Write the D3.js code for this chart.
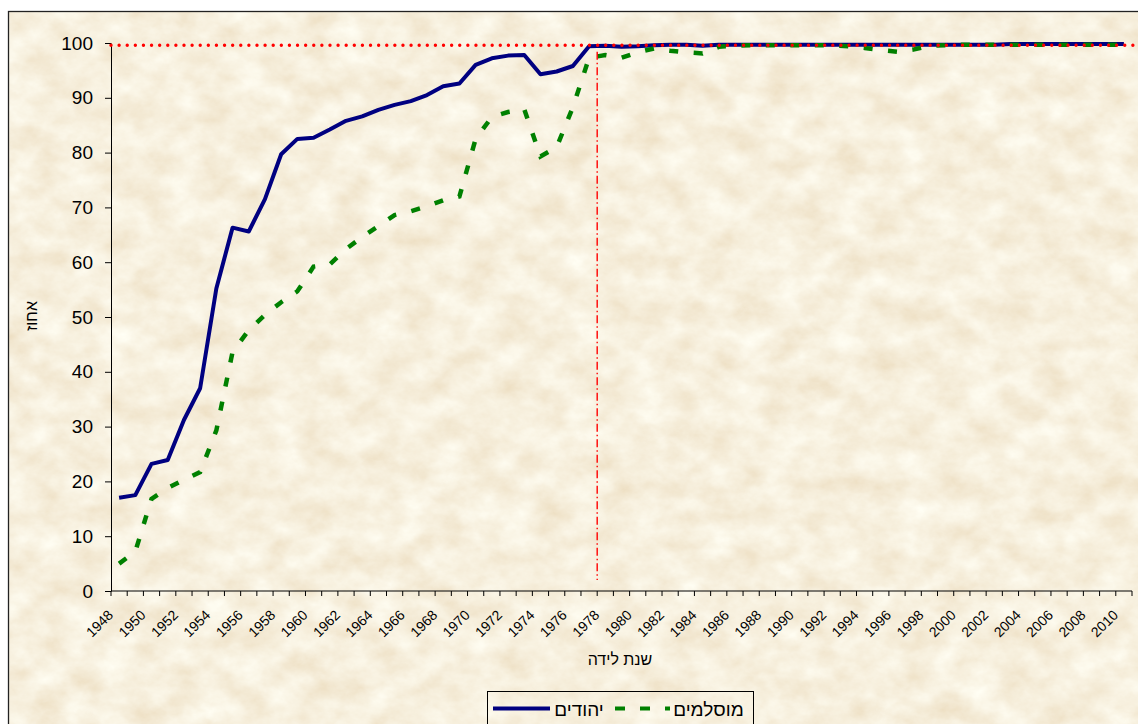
<!DOCTYPE html>
<html>
<head>
<meta charset="utf-8">
<script src="https://cdn.jsdelivr.net/npm/d3@7"></script>
<style>
  html, body { margin: 0; padding: 0; background: #fff; }
  svg { display: block; }
  text { font-family: Arial, "Liberation Sans", sans-serif; fill: #000; }
</style>
</head>
<body>
<div id="chart"></div>
<script>
// birth years (categories)
const years = [1948, 1949, 1950, 1951, 1952, 1953, 1954, 1955, 1956, 1957,
  1958, 1959, 1960, 1961, 1962, 1963, 1964, 1965, 1966, 1967,
  1968, 1969, 1970, 1971, 1972, 1973, 1974, 1975, 1976, 1977,
  1978, 1979, 1980, 1981, 1982, 1983, 1984, 1985, 1986, 1987,
  1988, 1989, 1990, 1991, 1992, 1993, 1994, 1995, 1996, 1997,
  1998, 1999, 2000, 2001, 2002, 2003, 2004, 2005, 2006, 2007,
  2008, 2009, 2010];

// יהודים
const jews = [17.0, 17.5, 23.2, 23.9, 31.2, 37.0, 55.2, 66.3, 65.6, 71.5,
  79.7, 82.5, 82.7, 84.2, 85.8, 86.6, 87.8, 88.7, 89.4, 90.5,
  92.1, 92.6, 96.0, 97.2, 97.7, 97.8, 94.3, 94.8, 95.8, 99.4,
  99.5, 99.3, 99.4, 99.6, 99.7, 99.7, 99.5, 99.7, 99.7, 99.7,
  99.7, 99.7, 99.7, 99.7, 99.7, 99.7, 99.7, 99.7, 99.7, 99.7,
  99.7, 99.7, 99.7, 99.7, 99.7, 99.8, 99.8, 99.8, 99.8, 99.8,
  99.8, 99.8, 99.8];

// מוסלמים
const muslims = [5.0, 7.2, 16.8, 18.8, 20.3, 21.7, 29.3, 43.6, 47.6, 50.4,
  52.7, 54.7, 59.2, 59.6, 62.4, 64.6, 66.6, 68.6, 69.3, 70.2,
  71.3, 72.0, 82.5, 86.5, 87.4, 87.9, 79.3, 81.0, 88.3, 97.3,
  97.8, 97.3, 98.3, 99.0, 98.6, 98.3, 98.1, 99.3, 99.5, 99.6,
  99.6, 99.6, 99.6, 99.6, 99.6, 99.4, 99.1, 98.7, 98.4, 98.8,
  99.5, 99.6, 99.7, 99.7, 99.7, 99.7, 99.7, 99.7, 99.7, 99.7,
  99.7, 99.7, 99.7];

const yTicks = [0, 10, 20, 30, 40, 50, 60, 70, 80, 90, 100];
const refLevel = 99.6;   // red dotted line
const refYear = 1978;    // red dash-dot line

const width = 1138, height = 724;

const svg = d3.select("#chart").append("svg")
    .attr("width", width)
    .attr("height", height);

// parchment-like background
const defs = svg.append("defs");
const f = defs.append("filter").attr("id", "paper")
    .attr("x", 0).attr("y", 0).attr("width", "100%").attr("height", "100%");
f.append("feTurbulence")
    .attr("type", "fractalNoise")
    .attr("baseFrequency", "0.03 0.04")
    .attr("numOctaves", 5)
    .attr("seed", 7)
    .attr("result", "n");
f.append("feColorMatrix")
    .attr("in", "n")
    .attr("type", "matrix")
    .attr("values", "0.18 0 0 0 0.84  0.3 0 0 0 0.72  0.42 0 0 0 0.52  0 0 0 0 1");

svg.append("rect")
    .attr("x", 8).attr("y", 11)
    .attr("width", width + 10).attr("height", height + 10)
    .attr("filter", "url(#paper)");
svg.append("rect")
    .attr("x", 8.5).attr("y", 11.5)
    .attr("width", width + 10).attr("height", height + 10)
    .attr("fill", "none")
    .attr("stroke", "#222")
    .attr("stroke-width", 1.3);

const x = d3.scaleBand()
    .domain(years)
    .range([111, 1132])
    .padding(0);
const bw = x.bandwidth();
const cx = d => x(d) + bw / 2;

const y = d3.scaleLinear()
    .domain([0, 100])
    .range([591, 43]);

// y axis
svg.append("g")
    .attr("transform", "translate(111,0)")
    .call(d3.axisLeft(y).tickValues(yTicks).tickSize(6).tickSizeOuter(0).tickPadding(12))
    .call(g => g.selectAll("text").style("font-size", "19px").attr("fill", "#000"))
    .call(g => g.selectAll("line,path").attr("stroke", "#000"));

// x axis: ticks on category boundaries, labels every other year
const xa = svg.append("g");
xa.append("line")
    .attr("x1", x.range()[0]).attr("x2", x.range()[1])
    .attr("y1", y(0)).attr("y2", y(0))
    .attr("stroke", "#000");
xa.selectAll("line.tick")
    .data(years.map(d => x(d)).concat([x.range()[1]]))
    .enter().append("line")
    .attr("class", "tick")
    .attr("x1", d => d).attr("x2", d => d)
    .attr("y1", y(0)).attr("y2", y(0) + 5)
    .attr("stroke", "#000");
xa.selectAll("text")
    .data(years.filter((d, i) => i % 2 === 0))
    .enter().append("text")
    .attr("transform", d => "translate(" + (cx(d) - 5) + "," + (y(0) + 25) + ")rotate(-45)")
    .attr("text-anchor", "end")
    .style("font-size", "14px")
    .text(d => d);

// axis titles
svg.append("text")
    .attr("x", 620).attr("y", 665)
    .attr("text-anchor", "middle")
    .style("font-size", "16px")
    .text("שנת לידה");
svg.append("text")
    .attr("transform", "translate(37,316)rotate(-90)")
    .attr("text-anchor", "middle")
    .style("font-size", "16px")
    .text("אחוז");

// series
const line = d3.line()
    .x((d, i) => cx(years[i]))
    .y(d => y(d));

svg.append("path")
    .datum(jews)
    .attr("d", line)
    .attr("fill", "none")
    .attr("stroke", "#000080")
    .attr("stroke-width", 4)
    .attr("stroke-linejoin", "round");

svg.append("path")
    .datum(muslims)
    .attr("d", line)
    .attr("fill", "none")
    .attr("stroke", "#008000")
    .attr("stroke-width", 4.5)
    .attr("stroke-dasharray", "9,15.5");

// reference lines
svg.append("line")
    .attr("x1", 111).attr("x2", width)
    .attr("y1", y(refLevel)).attr("y2", y(refLevel))
    .attr("stroke", "#ff0000")
    .attr("stroke-width", 3.4)
    .attr("stroke-linecap", "round")
    .attr("stroke-dasharray", "0.01,8.1");

svg.append("line")
    .attr("x1", x(refYear)).attr("x2", x(refYear))
    .attr("y1", y(98.4)).attr("y2", y(2))
    .attr("stroke", "#ff0000")
    .attr("stroke-width", 1.4)
    .attr("stroke-dasharray", "8,3,1.5,3");

// legend
const lg = svg.append("g");
lg.append("rect")
    .attr("x", 487.5).attr("y", 691.5)
    .attr("width", 266).attr("height", 50)
    .attr("fill", "none")
    .attr("stroke", "#000");
lg.append("line")
    .attr("x1", 493).attr("x2", 550)
    .attr("y1", 708.5).attr("y2", 708.5)
    .attr("stroke", "#000080")
    .attr("stroke-width", 4);
lg.append("text")
    .attr("x", 579).attr("y", 716)
    .attr("text-anchor", "middle")
    .style("font-size", "19px")
    .text("יהודים");
lg.append("line")
    .attr("x1", 615).attr("x2", 670)
    .attr("y1", 708.5).attr("y2", 708.5)
    .attr("stroke", "#008000")
    .attr("stroke-width", 4)
    .attr("stroke-dasharray", "10,15");
lg.append("text")
    .attr("x", 708.5).attr("y", 716)
    .attr("text-anchor", "middle")
    .style("font-size", "19px")
    .text("מוסלמים");
</script>
</body>
</html>
